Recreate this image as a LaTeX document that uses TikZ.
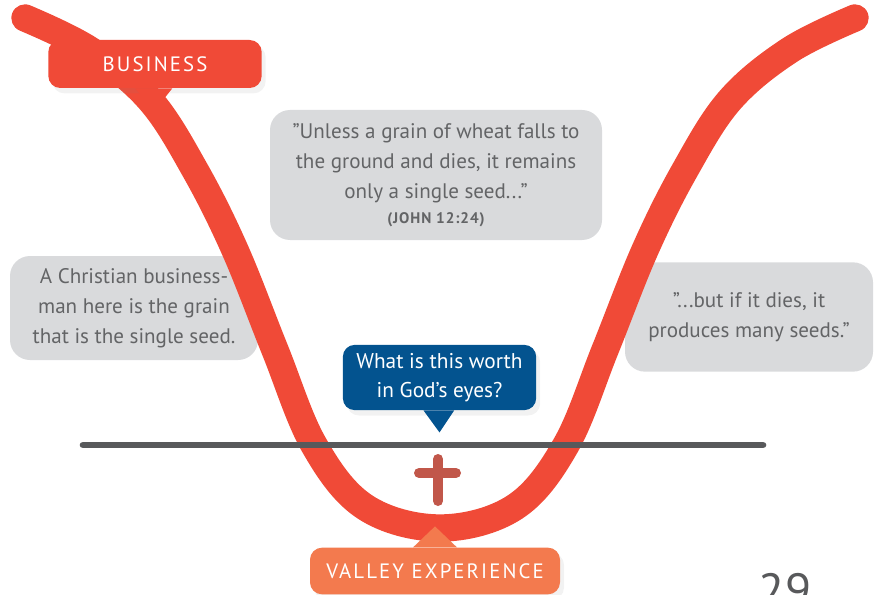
\documentclass[tikz,border=0pt]{standalone}
\usepackage{fontspec}
\setmainfont{PT Sans}
\newfontfamily\tagfont[LetterSpace=10]{PT Sans}
\newfontfamily\versefont[LetterSpace=6]{PT Sans}
\usetikzlibrary{positioning,shadows}
\definecolor{valleyred}{HTML}{F04A37}
\definecolor{quotegray}{HTML}{D9DADC}
\definecolor{quotetext}{HTML}{636466}
\definecolor{worthblue}{HTML}{03538F}
\definecolor{valleyorange}{HTML}{F37A4E}
\definecolor{horizon}{HTML}{58595B}
\definecolor{crossred}{HTML}{C1574A}
\begin{document}
\begin{tikzpicture}[x=0.75pt,y=-0.75pt,
  quote/.style n args={2}{fill=quotegray,rounded corners=15pt,minimum width=#1,minimum height=#2,inner sep=0pt,text=quotetext,align=center,font=\fontsize{15.8}{22.5}\selectfont},
  tag/.style n args={3}{fill=#1,rounded corners=9pt,minimum width=#2,minimum height=#3,inner sep=0pt,text=white,drop shadow={opacity=0.1,shadow xshift=3pt,shadow yshift=-4pt}},
  tagtext/.style={font=\tagfont\fontsize{15.6}{18}\selectfont},
  asktext/.style={align=center,font=\fontsize{16}{21.75}\selectfont}]
\useasboundingbox (0,0) rectangle (877,595);
% grey quotes behind the valley
\node[quote={249pt}{97.5pt}] (grainquote) at (436,175)
   {"Unless a grain of wheat falls to\\ the ground and dies, it remains\\ only a single seed..."\\[-3.75pt]
    {\versefont\bfseries\fontsize{11.5}{12}\selectfont (JOHN 12:24)}};
\node[quote={186pt}{78pt}] (businessman) at (134,308)
   {A Christian business-\\ man here is the grain\\ that is the single seed.};
\node[quote={186pt}{82pt}] (manyseeds) at (749,317)
   {"...but if it dies, it\\ produces many seeds."};
% the valley
\draw[valleyred,line width=20.5pt,line cap=round,
   preaction={draw=black,draw opacity=0.07,transform canvas={shift={(4pt,-6pt)}}}]
   plot[smooth,tension=0.6] coordinates {(25,18) (90,50) (150,100) (195,170) (235,250) (275,350) (314,445) (365,507)
   (440,528) (515,507) (566,445) (605,350) (645,250) (685,170) (730,100) (790,50) (855,18)};
% tags
\node[tag={valleyred}{160pt}{36pt},tagtext] (business) at (155,64) {BUSINESS};
\fill[valleyred] ([xshift=-15pt]business.south) -- ([xshift=13pt]business.south) -- ([yshift=-16.5pt]business.south) -- cycle;
\node[tag={worthblue}{145pt}{49pt},asktext] (worth) at (439.5,377.5) {What is this worth\\ in God's eyes?};
\fill[worthblue] ([xshift=-12pt]worth.south) -- ([xshift=11pt]worth.south) -- ([yshift=-16.5pt]worth.south) -- cycle;
\draw[horizon,line width=5pt,line cap=round] (83,445) -- (763,445);
\draw[crossred,line width=7.5pt,line cap=round] (438,459) -- (438,501) (419,473) -- (456,473);
\node[tag={valleyorange}{187.5pt}{35pt},tagtext] (valley) at (435,571) {VALLEY EXPERIENCE};
\fill[valleyorange] ([xshift=-16.5pt]valley.north) -- ([xshift=16.5pt]valley.north) -- ([yshift=15.75pt]valley.north) -- cycle;
\node[anchor=base,text=horizon,font=\fontsize{36}{40}\selectfont] (pagenum) at (785,607) {29};
\end{tikzpicture}
\end{document}
